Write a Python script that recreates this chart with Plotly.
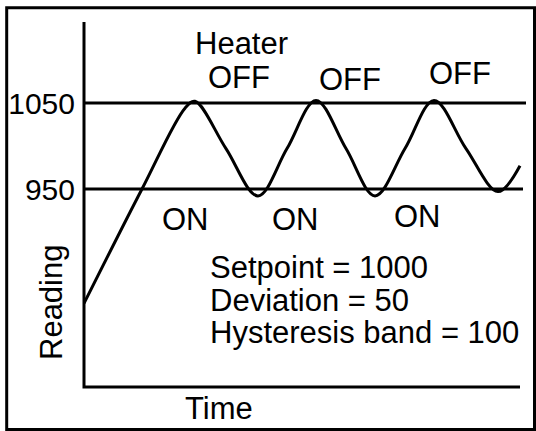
import plotly.graph_objects as go

# ---- data ----
time = [0, 58, 101, 111, 142, 174, 203, 232, 262, 291, 321, 350, 382, 414, 436]
reading = [817, 950, 1044, 1052, 997, 942, 997, 1053, 997, 942, 997, 1053, 997, 947, 977]

band_levels = [1050, 950]
band_ends = [442, 439]
tick_values = [950, 1050]
tick_labels = ["950", "1050"]

state_labels = ["OFF", "OFF", "OFF", "ON", "ON", "ON"]
info_lines = ["Setpoint = 1000", "Deviation = 50", "Hysteresis band = 100"]
x_title = "Time"
y_title = "Reading"
heater_label = "Heater"

# ---- layout geometry ----
W, H = 536, 431
L, R, T, B = 84, 8, 22, 44
PW = W - L - R
PH = H - T - B
SCALE = 0.86  # px per reading unit
y_top = 1050 + (103 - T) / SCALE
y_bot = y_top - PH / SCALE

FONT = "Liberation Sans, Arial, sans-serif"
TEXT_SIZE = 31


def px(x):
    return (x - L) / PW


def py(y):
    return (H - B - y) / PH


fig = go.Figure()
fig.add_trace(go.Scatter(
    x=time, y=reading, mode="lines",
    line=dict(color="black", width=3, shape="spline", smoothing=1),
    hoverinfo="skip", showlegend=False))
for lvl, end in zip(band_levels, band_ends):
    fig.add_trace(go.Scatter(
        x=[0, end], y=[lvl, lvl], mode="lines",
        line=dict(color="black", width=3),
        hoverinfo="skip", showlegend=False))

shapes = [
    dict(type="path", xref="paper", yref="paper",
         path=f"M 0,1 L 0,0 L {px(520)},0",
         line=dict(color="black", width=3)),
    dict(type="rect", xref="paper", yref="paper",
         x0=px(6.7), x1=px(534.5), y0=py(429.5), y1=py(7.7),
         line=dict(color="black", width=3)),
]

ann = []
def add_text(text, x, y, xanchor="center", angle=0):
    ann.append(dict(text=text, x=px(x), y=py(y), xref="paper", yref="paper",
                    xanchor=xanchor, yanchor="middle", showarrow=False,
                    textangle=angle,
                    font=dict(family=FONT, size=TEXT_SIZE, color="black")))

add_text(heater_label, 241, 44)
state_pos = [(238.5, 77.5), (349.5, 79), (460, 74), (185, 219), (295, 219.5), (417, 216.5)]
for lab, (x, y) in zip(state_labels, state_pos):
    add_text(lab, x, y)
for line, y in zip(info_lines, [267, 300, 332]):
    add_text(line, 208, y, xanchor="left")
add_text(x_title, 218.5, 408.5)
add_text(y_title, 51.5, 302.5, angle=-90)

fig.update_layout(
    width=W, height=H,
    margin=dict(l=L, r=R, t=T, b=B, pad=0, autoexpand=False),
    paper_bgcolor="white", plot_bgcolor="white",
    showlegend=False,
    shapes=shapes, annotations=ann,
    xaxis=dict(range=[0, PW], visible=False, fixedrange=True, automargin=False),
    yaxis=dict(range=[y_bot, y_top], showgrid=False, zeroline=False,
               showline=False, tickvals=tick_values, ticktext=tick_labels,
               ticks="outside", ticklen=2, tickcolor="rgba(0,0,0,0)",
               tickfont=dict(family=FONT, size=30, color="black"),
               fixedrange=True, automargin=False),
)

fig.write_html(
    "out.html",
    config={"displayModeBar": False, "staticPlot": True},
    post_script="document.body.style.margin='0';document.body.style.overflow='hidden';",
)
